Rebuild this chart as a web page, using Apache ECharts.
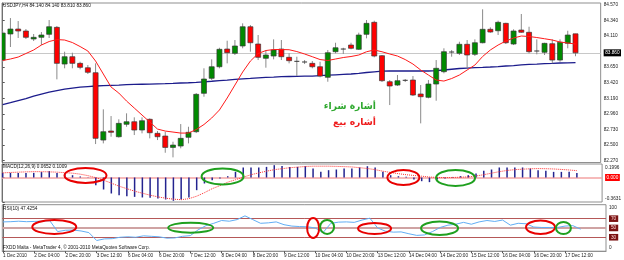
<!DOCTYPE html>
<html><head><meta charset="utf-8">
<script src="https://cdn.jsdelivr.net/npm/echarts@6/dist/echarts.min.js"></script>
<style>html,body{margin:0;padding:0;background:#fff}#c{width:624px;height:260px}</style>
</head><body><div id="c"></div>
<script>
// ---- data ----
const timeLabels = ["1 Dec 2010","2 Dec 04:00","2 Dec 20:00","3 Dec 12:00","6 Dec 04:00","6 Dec 20:00","7 Dec 12:00","8 Dec 04:00","8 Dec 20:00","9 Dec 12:00","10 Dec 04:00","10 Dec 20:00","13 Dec 12:00","14 Dec 04:00","14 Dec 20:00","15 Dec 12:00","16 Dec 04:00","16 Dec 20:00","17 Dec 12:00"];
const opens  = [83.754,84.138,84.211,84.182,84.064,84.089,84.133,84.236,83.695,83.803,83.705,83.640,83.567,82.574,82.707,82.623,82.806,82.844,82.722,82.880,82.673,82.633,82.466,82.486,82.614,82.697,83.263,83.484,83.655,83.916,83.853,83.961,84.245,83.990,83.779,83.813,83.916,83.794,83.735,83.725,83.705,83.655,83.499,83.877,83.912,83.975,83.912,84.133,84.310,83.818,83.434,83.385,83.455,83.459,83.253,83.204,83.400,83.582,83.868,83.853,83.986,83.838,84.009,84.207,84.186,84.295,83.990,84.196,84.163,83.887,83.868,83.995,83.754,84.000,84.140];
const highs  = [84.182,84.373,84.329,84.211,84.138,84.167,84.344,84.256,83.877,83.862,83.729,83.680,83.705,83.027,82.928,82.880,82.968,82.909,82.909,82.894,82.707,82.697,82.549,82.810,82.770,83.267,83.632,83.764,83.935,84.039,84.049,84.295,84.270,84.123,83.902,84.059,84.049,83.853,83.803,83.754,83.739,83.729,83.902,84.009,83.935,84.009,84.157,84.344,84.334,83.828,83.459,83.533,83.474,83.518,83.385,83.459,83.754,83.927,83.902,84.024,84.049,84.059,84.502,84.236,84.334,84.304,84.207,84.433,84.245,84.059,84.009,84.059,84.059,84.186,84.140];
const lows   = [83.725,83.946,84.079,84.064,84.034,83.975,84.079,83.469,83.632,83.632,83.617,83.548,82.515,82.525,82.623,82.610,82.770,82.648,82.673,82.599,82.574,82.387,82.319,82.452,82.525,82.677,83.213,83.459,83.632,83.705,83.828,83.927,83.877,83.754,83.641,83.764,83.754,83.705,83.518,83.695,83.632,83.499,83.434,83.853,83.843,83.912,83.902,84.074,83.794,83.430,83.090,83.371,83.430,83.223,82.820,83.189,83.154,83.558,83.803,83.828,83.632,83.813,84.000,84.157,84.123,83.990,83.975,84.157,83.853,83.838,83.828,83.705,83.729,83.927,83.810];
const closes = [84.152,84.211,84.182,84.089,84.089,84.123,84.245,83.705,83.803,83.705,83.646,83.573,82.599,82.697,82.688,82.820,82.844,82.722,82.859,82.682,82.623,82.466,82.500,82.599,82.688,83.248,83.474,83.655,83.912,83.862,83.961,84.245,84.009,83.794,83.828,83.902,83.803,83.744,83.725,83.714,83.655,83.518,83.862,83.935,83.916,83.927,84.123,84.295,83.813,83.449,83.371,83.449,83.449,83.238,83.213,83.400,83.632,83.877,83.872,83.986,83.828,84.009,84.207,84.167,84.310,84.009,84.182,84.163,83.877,83.882,84.000,83.754,84.015,84.123,83.860];
const maFast = [83.747,83.769,83.798,83.850,83.902,83.975,84.027,84.056,84.049,84.012,83.953,83.887,83.739,83.548,83.356,83.267,83.149,83.046,82.943,82.840,82.736,82.707,82.692,82.677,82.677,82.729,82.803,82.899,83.017,83.194,83.385,83.577,83.739,83.850,83.894,83.909,83.909,83.906,83.879,83.843,83.803,83.761,83.747,83.769,83.791,83.806,83.828,83.876,83.902,83.876,83.843,83.813,83.761,83.695,83.607,83.533,83.459,83.444,83.481,83.533,83.607,83.680,83.806,83.902,83.975,84.034,84.079,84.108,84.101,84.086,84.068,84.049,84.020,84.005,83.990];
const maSlow = [83.098,83.127,83.157,83.186,83.223,83.253,83.282,83.304,83.326,83.341,83.353,83.362,83.371,83.376,83.381,83.385,83.390,83.394,83.397,83.400,83.403,83.406,83.410,83.415,83.419,83.425,83.433,83.441,83.450,83.459,83.469,83.477,83.484,83.492,83.499,83.503,83.508,83.511,83.514,83.517,83.518,83.524,83.530,83.536,83.542,83.548,83.558,83.570,83.580,83.589,83.592,83.592,83.592,83.592,83.592,83.592,83.599,83.607,83.618,83.629,83.636,83.642,83.646,83.651,83.658,83.666,83.673,83.683,83.691,83.695,83.701,83.705,83.710,83.713,83.716];
const macdHist = [0.068,0.068,0.068,0.068,0.068,0.080,0.095,0.068,0.058,0.034,0.015,0.005,-0.114,-0.178,-0.237,-0.262,-0.277,-0.287,-0.296,-0.302,-0.311,-0.326,-0.345,-0.326,-0.296,-0.188,-0.089,-0.040,-0.015,0.019,0.083,0.148,0.148,0.148,0.157,0.182,0.170,0.157,0.157,0.167,0.133,0.083,0.108,0.118,0.133,0.133,0.148,0.167,0.148,0.083,0.034,0.019,0.010,-0.030,-0.055,-0.069,-0.030,-0.015,0.008,0.020,0.034,0.059,0.098,0.118,0.148,0.148,0.148,0.148,0.133,0.108,0.098,0.083,0.083,0.083,0.065];
const macdSignal = [0.068,0.074,0.079,0.083,0.086,0.086,0.083,0.079,0.071,0.064,0.049,0.027,-0.003,-0.040,-0.084,-0.129,-0.166,-0.203,-0.233,-0.262,-0.287,-0.307,-0.321,-0.329,-0.314,-0.277,-0.225,-0.166,-0.121,-0.070,-0.033,0.004,0.041,0.068,0.093,0.116,0.130,0.145,0.153,0.163,0.167,0.167,0.167,0.164,0.161,0.156,0.145,0.133,0.116,0.093,0.074,0.056,0.041,0.030,0.019,0.007,0.000,-0.001,0.000,0.004,0.009,0.022,0.041,0.064,0.086,0.104,0.116,0.123,0.129,0.132,0.130,0.126,0.119,0.111,0.101];
const rsi = [63,63.5,64.5,63.5,64,64.7,65.4,42.2,45,45.5,43.5,40,23,26.5,27,30,31,30,33,32,31,28,28.5,32,33.5,46,55,60,66,64.5,68,76,68,60,61,63,57,54,53,52.5,50,40,60,62.5,63,62,67,71,50,43,41,41.5,37.5,34,35,42,51,56,58,62,58,63,66,64,67,56,60,59,52,51,51,51,54,55,47.4];
const priceTicks = [82.27,82.5,82.73,82.96,83.19,83.42,83.65,84.11,84.34,84.57];
const lastPrice = 83.86;
const macdTicks = [0.1996,0,-0.3631];
const rsiTicks = [100,70,50,30,0];
const rsiLevels = [70,50,30];
const timeTickIdx = timeLabels.map((_, k) => k * 4);

// ---- chart ----
const chart = echarts.init(document.getElementById('c'), null, {renderer:'canvas'});
const FONT = 'Liberation Sans';
const FS = 4.7;
const XMIN = -0.09, XMAX = 77.25;
const gridBase = {left:2, right:18, show:true, borderColor:'#8f8f8f', borderWidth:1, backgroundColor:'#fff'};
const idx = a => a.map((v,i)=>[i,v]);
const hiddenX = g => ({type:'value', gridIndex:g, min:XMIN, max:XMAX, show:false, splitLine:{show:false}});
const yBase = {position:'right', splitLine:{show:false}, axisLine:{show:true, lineStyle:{color:'#707070'}},
  axisTick:{show:true, length:2, lineStyle:{color:'#555'}}};

chart.setOption({
  animation:false,
  backgroundColor:'#fff',
  grid:[
    Object.assign({top:3, height:159.5}, gridBase),
    Object.assign({top:164, height:38}, gridBase),
    Object.assign({top:204.7, height:46.5}, gridBase)
  ],
  xAxis:[ hiddenX(0), hiddenX(1),
    {type:'value', gridIndex:2, min:XMIN, max:XMAX, splitLine:{show:false},
     axisLine:{show:true, lineStyle:{color:'#8f8f8f'}},
     axisTick:{show:true, customValues:timeTickIdx, length:2, lineStyle:{color:'#555'}},
     axisLabel:{customValues:timeTickIdx, formatter:v=>timeLabels[Math.round(v/4)], fontSize:FS, fontFamily:FONT, color:'#222', align:'left', margin:2.5}}
  ],
  yAxis:[
    Object.assign({}, yBase, {type:'value', gridIndex:0, min:82.243, max:84.595,
      axisTick:{show:true, length:2, customValues:priceTicks.concat([lastPrice]), lineStyle:{color:'#555'}},
      axisLabel:{customValues:priceTicks.concat([lastPrice]), margin:3, fontSize:FS, fontFamily:FONT, color:'#222',
        formatter:v=> Math.abs(v-lastPrice)<1e-6 ? '{cur|'+v.toFixed(3)+'}' : v.toFixed(3),
        rich:{cur:{backgroundColor:'#000', color:'#fff', fontSize:FS, fontFamily:FONT, padding:[1.2,1.5,0.8,1.5]}}}}),
    Object.assign({}, yBase, {type:'value', gridIndex:1, min:-0.3631, max:0.1996,
      axisTick:{show:true, length:2, customValues:macdTicks, lineStyle:{color:'#555'}},
      axisLabel:{customValues:macdTicks, margin:3, fontSize:FS, fontFamily:FONT, color:'#222',
        formatter:v=> v===0 ? '{z|0.000}' : (v>0 ? '{t|'+v.toFixed(4)+'}' : '{b|'+v.toFixed(4)+'}'),
        rich:{z:{backgroundColor:'#ff0000', color:'#fff', fontSize:FS, fontFamily:FONT, padding:[1.2,1.5,0.8,1.5]},
              t:{fontSize:FS, fontFamily:FONT, color:'#222', padding:[8,0,0,0]},
              b:{fontSize:FS, fontFamily:FONT, color:'#222', padding:[0,0,6,0]}}}}),
    Object.assign({}, yBase, {type:'value', gridIndex:2, min:0, max:100,
      axisTick:{show:true, length:2, customValues:rsiTicks, lineStyle:{color:'#555'}},
      axisLabel:{customValues:rsiTicks, margin:3, fontSize:FS, fontFamily:FONT, color:'#222',
        formatter:v=> v===100 ? '{t|100}' : (v===0 ? '{b|0}' : '{box|'+v+'}'),
        rich:{box:{backgroundColor:'#7a1212', color:'#ffd8d8', fontSize:FS, fontFamily:FONT, padding:[1,2,0.6,2]},
              t:{fontSize:FS, fontFamily:FONT, color:'#222', padding:[6,0,0,0]},
              b:{fontSize:FS, fontFamily:FONT, color:'#222', padding:[0,0,6,0]}}}})
  ],
  series:[
    {type:'line', xAxisIndex:0, yAxisIndex:0, data:idx(maSlow), showSymbol:false, z:2,
     lineStyle:{color:'#1c1c8c', width:1.3},
     markLine:{silent:true, symbol:['none','none'], label:{show:false}, z:1,
       lineStyle:{color:'#c8c8c8', width:1, type:'solid'}, data:[{yAxis:lastPrice}]}},
    {type:'custom', xAxisIndex:0, yAxisIndex:0, z:3, clip:true,
     data:opens.map((o,i)=>[i,o,closes[i],lows[i],highs[i]]),
     encode:{x:0, y:[1,2,3,4]},
     renderItem:(params, api)=>{
       const i=api.value(0), o=api.value(1), c=api.value(2), l=api.value(3), h=api.value(4);
       const pO=api.coord([i,o]), pC=api.coord([i,c]), pL=api.coord([i,l]), pH=api.coord([i,h]);
       const x=pO[0], w=5;
       const top=Math.min(pO[1],pC[1]), bot=Math.max(pO[1],pC[1]);
       const ch=[{type:'line', shape:{x1:x,y1:pH[1],x2:x,y2:pL[1]}, style:{stroke:'#8a8a8a', lineWidth:1}}];
       if (bot-top<1.2) ch.push({type:'line', shape:{x1:x-w/2,y1:top,x2:x+w/2,y2:top}, style:{stroke:'#333', lineWidth:1}});
       else ch.push({type:'rect', shape:{x:x-w/2,y:top,width:w,height:bot-top},
                     style:{fill: c>=o ? '#008a00' : '#ff0000', stroke:'#3a3a3a', lineWidth:0.7}});
       return {type:'group', children:ch};
     }},
    {type:'line', xAxisIndex:0, yAxisIndex:0, data:idx(maFast), showSymbol:false, z:4,
     lineStyle:{color:'#ff1a1a', width:1}},
    {type:'bar', xAxisIndex:1, yAxisIndex:1, data:idx(macdHist), barWidth:1.5, z:3,
     itemStyle:{color:'#23238f'},
     markLine:{silent:true, symbol:['none','none'], label:{show:false}, z:1,
       lineStyle:{color:'#f3a3a3', width:1.5, type:'solid'}, data:[{yAxis:0}]}},
    {type:'line', xAxisIndex:1, yAxisIndex:1, data:idx(macdSignal), showSymbol:false, z:4,
     lineStyle:{color:'#ff3030', width:1, type:'dotted'}},
    {type:'line', xAxisIndex:2, yAxisIndex:2, data:idx(rsi), showSymbol:false, z:4,
     lineStyle:{color:'#62aef5', width:1},
     markLine:{silent:true, symbol:['none','none'], label:{show:false}, z:1,
       data:rsiLevels.map(v=>({yAxis:v, lineStyle:{color: v===50 ? '#cfa3a3' : '#b55858', width: v===50 ? 2 : 1, type:'solid'}}))}}
  ]
});

// annotations anchored in data space: [grid, bar index, value, rx, ry, colour]
const ellipses = [
  [1,10.67,0.030,21,7.5,'#e80000'],[1,28.34,0.015,21,8,'#1fa01f'],[1,51.64,0.0,16,7.5,'#e80000'],[1,58.36,-0.007,19.5,8,'#1fa01f'],
  [2,6.57,52.2,22,7,'#e80000'],[2,24.05,50.6,22.5,5,'#1fa01f'],[2,39.73,50,6,10,'#e80000'],[2,41.52,52.2,7,7,'#1fa01f'],
  [2,47.6,48.9,16.5,5.5,'#e80000'],[2,55.93,49.4,18.5,6.7,'#1fa01f'],[2,68.86,51.5,14.5,6.7,'#e80000'],[2,71.8,50,7.5,6,'#1fa01f']
];
const txt = (x,y,t,extra)=>({type:'text', x:x, y:y, z:50, silent:true,
  style:Object.assign({text:t, fontSize:FS, fontFamily:FONT, fill:'#111', align:'left', verticalAlign:'middle'}, extra||{})});
const graphics = [
  txt(3,5.5,'USDJPY,H4 84.140 84.140 83.810 83.860'),
  txt(3,167,'MACD(12,26,9) 0.0652 0.1009'),
  txt(3,209,'RSI(10) 47.4254'),
  txt(3,247.5,'FXDD Malta - MetaTrader 4, \u00a9 2001-2010 MetaQuotes Software Corp.'),
  txt(376,106.5,'أشارة شراء',{fontSize:9.2, fontWeight:'bold', fontFamily:'DejaVu Sans', fill:'#2ea82e', align:'right'}),
  txt(376,123,'أشاره بيع',{fontSize:9.2, fontWeight:'bold', fontFamily:'DejaVu Sans', fill:'#ee1c1c', align:'right'})
];
ellipses.forEach(e=>{
  const p = chart.convertToPixel({gridIndex:e[0]}, [e[1], e[2]]);
  graphics.push({type:'ellipse', z:60, silent:true, shape:{cx:p[0], cy:p[1], rx:e[3], ry:e[4]},
    style:{fill:'rgba(0,0,0,0)', stroke:e[5], lineWidth:2}});
});
chart.setOption({graphic:graphics});
</script></body></html>
